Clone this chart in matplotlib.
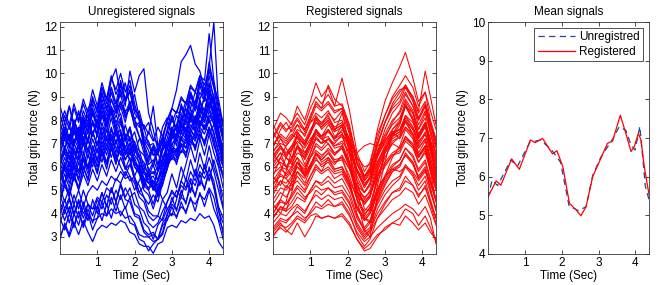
import numpy as np
import matplotlib
matplotlib.use("Agg")
import matplotlib.pyplot as plt

plt.rcParams['font.family'] = ['Liberation Sans', 'DejaVu Sans']
plt.rcParams['font.size'] = 8.5

# sample times of the registered (smooth) curves
t_reg = [0, 0.2, 0.35, 0.5, 0.65, 0.85, 1.0, 1.15, 1.3, 1.48, 1.65, 1.85, 2.05,
         2.25, 2.45, 2.6, 2.8, 3.0, 3.2, 3.4, 3.55, 3.75, 3.9, 4.08, 4.22, 4.37]

registered = [
    [6.8, 7.6, 7.9, 7.5, 7.8, 7.6, 8.0, 8.6, 8.4, 8.7, 8.3, 8.5, 7.6, 6.4, 5.6, 6.0, 7.6, 8.8, 9.6, 10.3, 10.9, 9.8, 8.8, 9.2, 8.0, 7.2],
    [7.2, 7.8, 7.5, 7.9, 8.3, 7.8, 8.5, 9.0, 8.7, 9.1, 8.6, 9.8, 8.4, 6.6, 5.8, 6.2, 7.4, 8.2, 9.0, 9.5, 9.9, 9.4, 8.6, 9.2, 8.4, 7.6],
    [7.6, 8.3, 8.1, 7.8, 8.6, 8.0, 8.8, 9.6, 9.0, 9.4, 8.6, 8.7, 7.8, 6.2, 5.4, 5.8, 7.0, 7.9, 8.7, 9.2, 9.5, 9.0, 8.4, 10.1, 9.0, 7.8],
    [6.9, 7.4, 7.2, 7.6, 8.0, 7.5, 8.1, 8.8, 8.5, 9.5, 8.9, 8.6, 7.7, 6.4, 5.6, 5.9, 7.0, 7.9, 8.5, 8.8, 9.4, 8.8, 8.0, 8.6, 7.8, 7.0],
    [5.2, 5.8, 6.4, 6.2, 7.5, 7.0, 7.4, 8.2, 7.8, 8.3, 8.0, 8.4, 6.8, 5.0, 3.8, 3.6, 5.2, 6.6, 7.6, 8.0, 8.6, 8.3, 7.4, 7.9, 7.2, 5.9],
    [7.8, 7.2, 6.8, 6.4, 6.9, 6.1, 6.6, 7.2, 7.0, 7.2, 7.0, 7.4, 7.0, 6.6, 6.9, 7.0, 6.9, 7.1, 7.5, 7.6, 8.0, 7.6, 7.1, 7.4, 6.9, 6.3],
    [4.0, 4.6, 5.2, 5.0, 6.2, 5.8, 6.6, 7.3, 7.0, 7.6, 7.2, 7.8, 6.6, 4.6, 3.3, 3.0, 4.8, 6.2, 7.4, 7.9, 8.8, 8.3, 7.6, 8.1, 7.0, 5.6],
    [6.2, 6.6, 6.0, 5.6, 6.2, 5.7, 6.4, 7.0, 6.8, 7.2, 6.9, 7.1, 6.6, 5.9, 5.4, 5.7, 6.5, 7.0, 7.4, 7.6, 8.2, 7.9, 7.3, 7.8, 7.1, 6.6],
    [5.6, 5.2, 5.8, 6.7, 7.3, 6.6, 7.0, 7.6, 7.2, 7.0, 6.5, 6.8, 6.0, 5.2, 4.9, 5.3, 6.4, 7.1, 7.5, 7.2, 7.7, 7.4, 6.8, 7.2, 6.4, 5.6],
    [3.8, 4.3, 4.1, 4.9, 5.8, 5.3, 5.9, 6.6, 6.3, 6.6, 6.2, 6.4, 5.4, 4.0, 3.2, 3.4, 4.6, 5.6, 6.4, 6.9, 7.6, 7.2, 6.4, 6.9, 5.8, 4.5],
    [6.6, 6.1, 5.6, 5.9, 6.4, 5.6, 6.0, 6.6, 6.2, 6.4, 5.9, 6.0, 5.4, 4.7, 4.5, 4.8, 5.6, 6.1, 6.5, 6.6, 7.1, 6.8, 6.2, 6.6, 5.8, 5.0],
    [4.8, 5.4, 5.1, 5.5, 6.0, 5.6, 6.1, 6.6, 6.4, 6.8, 6.5, 6.9, 6.1, 5.0, 4.4, 4.7, 5.8, 6.7, 7.3, 7.8, 8.6, 8.0, 7.2, 7.8, 6.8, 5.8],
    [5.6, 6.4, 6.0, 6.0, 6.9, 6.6, 7.0, 7.4, 7.2, 7.6, 7.2, 7.4, 6.8, 5.8, 5.3, 5.5, 6.2, 6.8, 7.3, 7.5, 8.2, 7.7, 7.2, 7.7, 6.9, 6.1],
    [4.2, 4.6, 4.4, 4.8, 5.2, 4.9, 5.4, 5.9, 5.7, 5.9, 5.5, 5.7, 5.1, 4.2, 3.7, 4.0, 4.9, 5.5, 6.0, 6.3, 6.8, 6.4, 5.8, 6.2, 5.4, 4.6],
    [3.8, 4.3, 4.2, 4.5, 4.9, 4.6, 5.0, 5.4, 5.2, 5.4, 5.1, 5.2, 4.7, 3.8, 3.3, 3.6, 4.4, 5.0, 5.4, 5.6, 6.1, 5.7, 5.2, 5.6, 4.9, 4.2],
    [3.4, 3.8, 3.7, 3.9, 4.1, 3.8, 4.0, 4.3, 4.2, 4.4, 4.3, 4.4, 3.9, 3.2, 2.8, 3.0, 3.4, 3.7, 4.0, 4.2, 4.4, 4.2, 3.9, 4.3, 3.8, 2.7],
    [3.2, 3.6, 3.3, 3.1, 3.6, 3.0, 3.4, 3.9, 3.8, 3.9, 3.8, 3.9, 3.5, 2.9, 2.5, 2.7, 3.1, 3.3, 3.6, 3.8, 4.2, 4.0, 3.5, 3.9, 3.4, 2.8],
    [4.0, 4.5, 4.4, 4.7, 5.1, 4.7, 4.9, 5.2, 5.0, 5.1, 4.8, 4.9, 4.4, 3.6, 3.1, 3.3, 4.0, 4.5, 4.9, 5.0, 5.4, 5.2, 4.8, 5.1, 4.5, 3.8],
    [3.6, 4.0, 3.9, 4.2, 4.4, 4.1, 4.5, 4.8, 4.6, 4.8, 4.6, 4.7, 4.2, 3.4, 2.9, 3.2, 3.8, 4.2, 4.6, 4.8, 5.1, 4.9, 4.4, 4.8, 4.2, 3.5],
    [6.6, 7.2, 7.0, 7.3, 7.8, 7.3, 7.9, 8.3, 8.1, 8.4, 7.9, 8.0, 7.1, 5.9, 5.2, 5.6, 6.9, 7.9, 8.6, 9.0, 9.5, 8.9, 8.1, 8.7, 7.8, 6.9],
    [7.0, 7.3, 7.1, 7.4, 7.2, 7.0, 7.5, 7.9, 7.7, 8.0, 7.6, 7.8, 7.0, 5.8, 5.2, 5.5, 6.6, 7.3, 7.8, 8.1, 8.7, 8.1, 7.4, 7.9, 7.1, 6.4],
    [5.9, 6.2, 6.0, 6.4, 6.9, 6.5, 7.1, 7.6, 7.3, 7.6, 7.1, 7.3, 6.5, 5.4, 4.9, 5.2, 6.2, 6.9, 7.4, 7.6, 8.1, 7.7, 7.0, 7.5, 6.7, 5.8],
    [6.3, 6.8, 6.5, 6.7, 7.1, 6.8, 7.2, 7.5, 7.2, 7.3, 6.9, 7.0, 6.2, 5.0, 4.5, 4.8, 6.0, 6.8, 7.3, 7.5, 8.0, 7.6, 6.9, 7.4, 6.6, 5.7],
    [5.0, 5.4, 5.3, 5.6, 6.0, 5.7, 6.1, 6.5, 6.3, 6.6, 6.2, 6.3, 5.6, 4.6, 4.1, 4.4, 5.4, 6.0, 6.5, 6.7, 7.3, 6.9, 6.2, 6.7, 5.9, 5.0],
    [5.4, 5.9, 5.7, 6.0, 6.4, 6.0, 6.4, 6.7, 6.5, 6.7, 6.3, 6.4, 5.9, 5.1, 4.7, 4.9, 5.7, 6.2, 6.6, 6.8, 7.2, 6.9, 6.4, 6.8, 6.1, 5.3],
    [6.1, 6.6, 6.4, 6.8, 7.3, 6.9, 7.4, 7.9, 7.7, 8.0, 7.5, 7.7, 7.0, 5.8, 5.1, 5.5, 6.7, 7.4, 8.0, 8.3, 8.9, 8.4, 7.6, 8.3, 7.4, 6.5],
    [3.9, 4.2, 4.1, 4.3, 4.7, 4.5, 5.0, 5.4, 5.3, 5.6, 5.3, 5.5, 4.9, 3.9, 3.4, 3.7, 4.6, 5.3, 5.8, 6.1, 6.5, 6.1, 5.5, 5.9, 5.0, 4.1],
    [4.6, 5.1, 5.0, 5.3, 5.8, 5.5, 5.9, 6.3, 6.1, 6.3, 5.9, 6.0, 5.3, 4.3, 3.8, 4.1, 5.0, 5.6, 6.1, 6.3, 6.8, 6.5, 5.9, 6.3, 5.5, 4.6],
    [7.3, 7.9, 7.6, 7.7, 8.1, 7.6, 8.2, 8.7, 8.5, 8.8, 8.4, 8.5, 7.5, 6.1, 5.5, 5.9, 7.2, 8.2, 8.9, 9.3, 9.4, 9.0, 8.3, 8.8, 7.9, 7.1],
    [3.0, 3.5, 3.4, 3.6, 3.9, 3.7, 4.1, 4.5, 4.3, 4.6, 4.3, 4.5, 4.0, 3.1, 2.6, 2.9, 3.8, 4.4, 4.9, 5.1, 5.6, 5.2, 4.7, 5.2, 4.4, 3.6],
    [5.7, 6.0, 5.9, 6.3, 6.8, 6.4, 6.9, 7.2, 7.0, 7.2, 6.8, 6.9, 6.2, 5.2, 4.6, 5.0, 6.1, 6.7, 7.2, 7.4, 7.9, 7.4, 6.8, 7.2, 6.4, 5.5],
    [6.7, 7.0, 6.9, 7.2, 7.5, 7.1, 7.6, 8.0, 7.8, 8.1, 7.7, 7.9, 7.2, 6.2, 5.6, 5.8, 6.5, 7.1, 7.6, 7.9, 8.6, 8.0, 7.3, 7.8, 7.0, 6.2],
    [4.4, 4.9, 4.7, 5.1, 5.6, 5.2, 5.6, 6.0, 5.8, 6.0, 5.7, 5.8, 5.2, 4.2, 3.7, 4.0, 4.8, 5.4, 5.9, 6.1, 6.5, 6.2, 5.6, 6.0, 5.3, 4.5],
    [5.3, 5.6, 5.5, 5.8, 6.2, 5.9, 6.4, 6.9, 6.7, 7.0, 6.6, 6.8, 6.0, 4.9, 4.4, 4.7, 5.9, 6.6, 7.1, 7.3, 8.0, 7.4, 6.6, 7.1, 6.2, 5.2],
    [3.3, 3.7, 3.6, 3.9, 4.3, 4.0, 4.5, 5.0, 4.8, 5.1, 4.9, 5.0, 4.5, 3.5, 3.0, 3.3, 4.2, 4.8, 5.2, 5.5, 6.0, 5.6, 5.0, 5.4, 4.6, 3.8],
    [6.4, 6.9, 6.6, 6.9, 7.4, 6.9, 7.5, 8.1, 7.9, 8.2, 7.6, 7.8, 6.8, 5.6, 4.9, 5.3, 6.6, 7.6, 8.3, 8.7, 9.2, 8.6, 7.8, 8.4, 7.5, 6.6],
    [7.5, 6.9, 6.5, 6.9, 7.0, 6.3, 6.8, 7.5, 7.3, 7.8, 7.5, 8.3, 7.4, 5.4, 4.2, 4.1, 5.5, 6.6, 7.0, 6.8, 7.3, 7.0, 6.4, 6.9, 6.2, 5.4],
    [5.0, 5.7, 5.5, 5.2, 5.4, 5.0, 5.6, 6.1, 5.8, 6.4, 6.1, 6.5, 5.9, 4.8, 4.0, 4.2, 5.1, 5.6, 5.9, 5.8, 6.0, 5.8, 5.4, 5.8, 5.3, 4.6],
    [6.0, 6.4, 6.9, 7.2, 7.6, 7.4, 7.9, 8.1, 7.6, 7.9, 7.3, 7.5, 6.2, 4.6, 3.9, 4.3, 5.6, 6.4, 7.0, 7.3, 7.7, 7.3, 6.5, 6.9, 6.0, 5.1],
    [4.4, 4.0, 4.5, 5.4, 6.2, 5.6, 6.0, 6.4, 6.0, 6.2, 5.8, 5.9, 5.2, 4.3, 3.8, 3.7, 4.5, 5.2, 5.8, 6.0, 6.6, 6.2, 5.5, 5.9, 5.1, 4.2],
    [6.5, 6.9, 6.4, 6.1, 6.6, 6.4, 7.0, 7.6, 7.3, 7.5, 7.2, 7.6, 7.2, 6.4, 6.0, 6.1, 6.6, 7.2, 7.9, 8.4, 9.1, 8.6, 8.0, 8.6, 7.6, 6.8],
    [3.1, 3.4, 3.2, 3.5, 3.8, 3.6, 3.9, 4.0, 3.8, 3.9, 3.8, 4.0, 3.6, 2.9, 2.4, 2.5, 3.0, 3.4, 3.6, 3.5, 3.9, 3.6, 3.3, 3.6, 3.2, 2.9],
]

# sample times of the unregistered (jagged) curves
t_unreg = [0, 0.125, 0.25, 0.375, 0.5, 0.625, 0.75, 0.875, 1.0, 1.125, 1.25, 1.375,
           1.5, 1.625, 1.75, 1.875, 2.0, 2.125, 2.25, 2.375, 2.5, 2.625, 2.75, 2.875,
           3.0, 3.125, 3.25, 3.375, 3.5, 3.625, 3.75, 3.875, 4.0, 4.125, 4.25, 4.375]

unregistered = [
    [6.5, 7.3, 6.9, 7.6, 7.0, 7.9, 7.5, 8.3, 7.8, 8.7, 8.0, 8.9, 8.4, 8.8, 8.1, 8.6, 7.7, 7.9, 7.0, 6.4, 6.9, 6.1, 6.9, 7.5, 8.2, 7.6, 8.7, 8.1, 9.2, 8.6, 9.7, 9.0, 10.3, 12.2, 8.6, 7.7],
    [6.0, 6.7, 6.1, 7.0, 6.6, 7.5, 7.0, 7.9, 7.4, 8.4, 7.7, 8.5, 7.9, 8.3, 7.3, 7.1, 6.2, 5.8, 5.1, 5.7, 5.0, 5.9, 6.7, 7.6, 8.5, 9.3, 10.5, 10.8, 11.2, 10.4, 10.1, 9.3, 9.0, 8.1, 7.2, 6.3],
    [7.0, 7.7, 7.1, 8.0, 7.3, 8.2, 7.7, 8.7, 8.1, 9.1, 8.4, 9.4, 8.7, 9.7, 8.9, 9.5, 8.5, 8.1, 7.1, 6.7, 6.0, 6.8, 7.3, 8.0, 8.5, 8.3, 8.9, 8.7, 9.4, 9.2, 9.9, 9.7, 11.7, 9.7, 8.5, 7.3],
    [8.3, 7.5, 8.6, 7.8, 8.3, 7.5, 8.5, 8.8, 8.5, 9.4, 8.7, 9.7, 10.2, 9.0, 9.6, 8.6, 9.1, 8.1, 7.7, 6.9, 6.5, 6.8, 7.7, 8.1, 7.9, 8.4, 8.2, 8.8, 8.5, 9.2, 8.9, 9.4, 9.1, 8.2, 7.7, 7.8],
    [5.5, 6.1, 5.6, 6.5, 6.8, 6.6, 7.2, 7.9, 7.3, 8.4, 7.8, 8.9, 8.3, 9.3, 8.6, 10.1, 9.2, 9.9, 10.2, 8.3, 7.6, 6.7, 7.3, 6.4, 7.4, 7.8, 7.5, 8.2, 7.9, 8.6, 8.3, 9.0, 8.6, 9.1, 7.1, 6.1],
    [6.8, 7.4, 6.8, 7.7, 7.1, 8.0, 7.4, 8.3, 7.6, 8.7, 7.9, 8.5, 7.7, 8.6, 7.9, 8.8, 8.0, 7.7, 7.8, 7.4, 8.6, 6.9, 6.7, 7.0, 7.7, 7.1, 8.1, 7.5, 8.5, 7.9, 8.9, 8.1, 9.5, 8.5, 7.9, 7.1],
    [5.0, 5.7, 5.1, 6.0, 5.4, 6.4, 5.9, 6.9, 6.3, 7.3, 6.7, 7.6, 7.0, 7.9, 7.2, 7.7, 6.9, 6.7, 6.0, 5.7, 5.1, 5.8, 6.2, 7.0, 7.4, 7.2, 7.8, 7.5, 8.1, 7.8, 8.4, 8.1, 8.5, 8.0, 7.1, 6.7],
    [6.2, 6.8, 6.3, 7.0, 6.5, 7.3, 6.7, 7.5, 6.9, 7.7, 7.1, 7.4, 6.8, 6.9, 6.0, 5.6, 5.0, 5.4, 5.9, 6.4, 6.9, 6.5, 7.2, 6.8, 7.6, 7.1, 7.9, 7.3, 8.1, 7.5, 8.3, 7.6, 8.0, 7.4, 6.7, 6.1],
    [7.5, 8.2, 7.6, 8.5, 7.9, 8.7, 8.1, 9.0, 8.3, 9.2, 8.5, 9.4, 8.7, 9.1, 8.3, 8.8, 8.0, 8.4, 7.6, 7.9, 7.2, 7.0, 6.4, 6.0, 6.5, 7.4, 8.0, 8.6, 9.2, 8.7, 9.8, 9.1, 10.5, 9.4, 8.9, 7.8],
    [4.5, 5.2, 4.7, 5.6, 5.1, 6.0, 5.5, 6.4, 5.8, 6.7, 6.1, 7.0, 6.4, 7.2, 6.5, 7.0, 6.2, 6.0, 5.3, 5.1, 5.4, 4.7, 5.5, 5.9, 6.7, 6.1, 7.0, 6.4, 7.4, 6.7, 7.6, 6.9, 7.7, 6.9, 6.4, 5.5],
    [5.8, 6.4, 5.8, 6.7, 6.1, 7.0, 6.4, 7.2, 6.6, 7.5, 6.9, 7.7, 7.0, 7.4, 6.6, 7.0, 6.1, 5.9, 5.2, 5.0, 4.4, 5.1, 5.5, 6.3, 6.8, 6.6, 7.2, 7.0, 7.6, 7.3, 7.9, 7.6, 8.2, 7.9, 6.9, 6.4],
    [4.3, 3.7, 4.3, 3.5, 4.1, 3.4, 4.0, 3.3, 3.8, 4.0, 3.9, 4.2, 4.0, 4.1, 3.8, 3.9, 3.6, 3.1, 3.0, 3.0, 2.8, 2.9, 3.5, 3.7, 4.3, 3.8, 4.5, 4.0, 4.7, 4.1, 4.9, 4.3, 5.0, 4.2, 3.7, 2.9],
    [3.0, 3.5, 3.0, 3.6, 3.1, 3.7, 3.2, 2.8, 3.3, 3.5, 3.4, 3.6, 3.5, 3.7, 3.6, 3.2, 3.1, 2.7, 2.6, 2.6, 2.3, 2.7, 2.8, 3.4, 3.5, 3.4, 3.7, 3.6, 3.8, 3.7, 4.0, 3.8, 3.9, 3.5, 2.8, 2.5],
    [3.6, 4.2, 3.6, 4.4, 3.8, 4.5, 3.9, 3.7, 3.8, 4.5, 3.9, 4.7, 4.1, 4.8, 4.2, 4.7, 4.0, 3.9, 3.3, 3.1, 3.2, 2.9, 3.1, 3.8, 4.0, 3.9, 4.3, 4.1, 4.6, 4.4, 4.8, 4.6, 5.1, 4.7, 3.8, 3.3],
    [4.8, 4.2, 4.7, 4.0, 4.6, 4.0, 4.4, 4.2, 4.7, 4.5, 5.1, 4.9, 5.5, 5.3, 5.8, 5.4, 5.6, 4.9, 4.7, 4.1, 3.9, 3.9, 3.7, 4.2, 4.5, 5.0, 4.7, 5.5, 4.9, 5.9, 5.2, 6.1, 5.4, 6.3, 5.5, 4.7],
    [5.3, 5.9, 5.3, 6.1, 5.5, 6.3, 5.7, 6.6, 6.0, 6.8, 6.2, 7.0, 6.3, 6.7, 5.9, 6.4, 5.6, 6.1, 5.4, 5.9, 5.3, 5.1, 4.6, 4.2, 3.9, 4.6, 5.4, 6.1, 6.9, 6.2, 7.2, 6.5, 7.4, 6.6, 6.0, 5.1],
    [7.2, 7.9, 7.2, 8.0, 7.4, 8.1, 7.5, 8.4, 7.8, 8.6, 7.9, 8.3, 7.5, 8.0, 7.1, 7.6, 6.7, 6.4, 5.7, 5.5, 5.6, 5.2, 5.7, 6.5, 6.9, 6.7, 7.3, 7.1, 7.8, 7.5, 8.2, 7.9, 8.7, 8.2, 7.2, 6.6],
    [6.4, 5.9, 6.7, 6.1, 7.0, 6.3, 7.2, 6.6, 7.4, 6.8, 7.6, 6.9, 7.7, 7.0, 7.8, 7.1, 7.5, 6.7, 6.5, 5.9, 5.7, 6.0, 6.7, 7.1, 6.9, 7.4, 7.2, 7.7, 7.4, 8.0, 7.7, 8.3, 8.0, 8.5, 7.9, 7.9],
    [8.6, 7.9, 8.6, 7.7, 8.4, 7.6, 8.2, 7.4, 8.0, 7.3, 7.9, 7.1, 7.7, 6.9, 7.4, 6.7, 7.1, 6.4, 6.2, 5.6, 6.1, 5.4, 6.3, 6.7, 7.5, 6.9, 7.9, 7.3, 8.3, 7.6, 8.6, 7.9, 9.1, 8.2, 7.6, 6.7],
    [5.1, 4.5, 5.1, 4.4, 5.0, 4.3, 4.9, 5.2, 5.0, 5.4, 5.2, 5.6, 5.4, 5.8, 5.5, 5.6, 5.3, 4.7, 4.5, 3.9, 3.7, 3.9, 4.6, 4.9, 5.7, 5.1, 6.0, 5.4, 6.3, 5.6, 6.6, 5.9, 6.9, 6.0, 5.4, 4.3],
    [6.9, 7.5, 6.9, 7.8, 7.2, 8.1, 7.5, 8.5, 7.9, 8.9, 8.2, 9.2, 8.5, 9.5, 8.8, 9.3, 8.4, 8.2, 7.3, 7.1, 6.5, 6.6, 6.0, 6.4, 7.0, 7.2, 7.7, 7.5, 8.1, 7.9, 8.5, 8.2, 8.8, 8.4, 7.4, 6.9],
    [4.0, 4.6, 4.0, 4.8, 4.2, 5.0, 4.4, 4.2, 4.3, 4.9, 4.3, 5.1, 4.5, 5.2, 4.6, 4.5, 3.9, 3.8, 3.2, 3.0, 3.1, 2.9, 3.2, 4.0, 4.4, 4.2, 4.7, 4.5, 5.1, 4.8, 5.4, 5.1, 5.7, 5.2, 4.1, 3.6],
    [5.6, 6.2, 5.6, 6.4, 5.8, 6.6, 6.0, 6.9, 6.2, 7.1, 6.5, 7.3, 6.6, 7.5, 6.8, 7.3, 6.5, 6.2, 5.5, 5.3, 5.4, 5.1, 5.5, 6.3, 6.7, 6.5, 7.0, 6.8, 7.4, 7.1, 7.7, 7.4, 8.0, 7.5, 6.5, 6.0],
    [6.6, 7.2, 6.6, 7.5, 6.9, 7.8, 7.1, 8.0, 7.3, 8.2, 7.5, 8.4, 7.7, 8.1, 7.2, 7.7, 6.8, 6.5, 5.8, 5.6, 5.8, 5.4, 5.9, 6.8, 7.3, 7.1, 7.8, 7.5, 8.3, 8.0, 8.8, 8.4, 9.2, 8.7, 7.3, 6.8],
    [7.8, 8.4, 7.8, 8.7, 8.0, 8.9, 8.3, 9.3, 8.6, 9.6, 8.9, 9.9, 9.1, 9.6, 8.8, 9.2, 8.3, 8.0, 7.2, 6.9, 7.0, 6.6, 7.1, 8.0, 8.5, 8.3, 9.0, 8.7, 9.5, 9.2, 9.9, 9.5, 10.2, 9.6, 8.5, 7.9],
    [2.9, 3.6, 3.1, 4.0, 3.5, 4.3, 3.7, 4.6, 4.0, 4.9, 4.3, 5.1, 4.5, 5.3, 4.7, 5.1, 4.4, 4.2, 3.6, 3.4, 2.9, 3.5, 3.8, 4.5, 4.9, 4.7, 5.2, 5.0, 5.5, 5.2, 5.8, 5.5, 5.9, 5.4, 4.3, 3.8],
    [5.9, 5.3, 6.2, 5.6, 6.5, 5.9, 6.8, 6.2, 7.1, 6.5, 7.3, 6.7, 7.5, 6.8, 7.2, 6.5, 6.9, 6.1, 5.9, 5.3, 5.1, 5.4, 6.1, 6.5, 6.3, 6.8, 6.6, 7.2, 6.9, 7.5, 7.2, 7.8, 7.4, 7.8, 7.2, 6.2],
    [4.6, 5.3, 4.8, 5.7, 5.1, 6.0, 5.4, 6.3, 5.7, 6.6, 5.9, 6.8, 6.1, 7.0, 6.3, 6.7, 6.0, 5.7, 5.0, 4.8, 4.2, 4.9, 5.2, 6.0, 6.4, 6.2, 6.7, 6.5, 7.1, 6.8, 7.4, 7.1, 7.7, 7.2, 6.1, 5.6],
    [3.8, 3.3, 4.0, 3.4, 4.1, 3.5, 4.2, 3.6, 4.3, 3.7, 4.4, 3.8, 4.5, 3.9, 4.3, 3.6, 3.5, 2.9, 2.8, 2.4, 2.7, 2.9, 3.6, 3.9, 4.7, 4.1, 5.0, 4.4, 5.4, 4.7, 5.7, 5.0, 6.0, 5.1, 4.2, 3.1],
    [7.9, 7.2, 7.8, 7.0, 7.7, 6.9, 7.6, 7.9, 7.7, 8.2, 8.0, 8.5, 8.3, 8.7, 8.4, 8.5, 8.0, 7.3, 6.9, 6.2, 6.8, 5.9, 6.8, 7.2, 8.1, 7.5, 8.6, 8.0, 9.1, 8.4, 9.5, 8.8, 9.9, 8.9, 8.1, 7.2],
    [7.3, 6.8, 7.4, 6.9, 7.6, 7.1, 7.9, 7.3, 8.0, 7.4, 7.6, 6.9, 6.5, 6.0, 5.6, 6.1, 6.6, 7.2, 6.9, 7.5, 7.1, 7.7, 7.3, 7.9, 7.5, 8.2, 7.8, 8.5, 8.1, 8.8, 8.3, 9.0, 8.5, 8.9, 8.0, 7.5],
    [4.9, 5.4, 4.8, 5.6, 5.0, 5.7, 5.2, 5.9, 5.4, 6.1, 5.6, 6.3, 5.8, 6.4, 5.9, 6.1, 5.5, 5.2, 4.7, 4.4, 4.8, 4.5, 5.3, 5.9, 6.8, 6.6, 7.5, 7.2, 8.1, 7.8, 8.7, 8.4, 9.3, 8.8, 7.6, 6.4],
    [6.1, 6.6, 6.0, 6.8, 6.3, 7.1, 6.6, 7.5, 6.9, 7.9, 7.2, 8.1, 7.3, 7.6, 6.7, 6.3, 5.4, 4.9, 5.2, 5.8, 6.2, 6.7, 7.0, 7.5, 7.2, 7.8, 7.4, 8.0, 7.6, 8.2, 7.8, 8.4, 7.9, 8.1, 7.3, 6.6],
    [5.4, 6.0, 5.5, 6.2, 5.7, 6.4, 5.9, 6.6, 6.0, 6.7, 6.1, 6.8, 6.2, 6.9, 6.3, 6.7, 6.0, 5.8, 5.3, 5.5, 5.0, 5.4, 5.8, 6.2, 6.5, 6.3, 6.9, 6.6, 7.2, 6.9, 7.4, 7.0, 7.6, 7.1, 6.3, 5.7],
    [7.0, 7.6, 7.1, 8.0, 7.5, 8.4, 7.9, 8.9, 8.4, 9.4, 8.9, 9.8, 9.3, 10.0, 9.2, 9.7, 8.7, 8.0, 6.8, 5.8, 5.1, 4.8, 5.5, 6.4, 7.2, 7.8, 8.5, 8.2, 9.0, 8.7, 9.6, 9.2, 10.1, 9.4, 8.2, 7.4],
    [4.5, 4.0, 4.6, 3.9, 4.5, 3.8, 4.4, 3.9, 4.6, 4.2, 4.8, 4.4, 5.0, 4.6, 5.1, 4.7, 4.9, 4.3, 4.1, 3.6, 3.4, 3.6, 4.1, 4.5, 5.0, 4.7, 5.4, 5.1, 5.8, 5.4, 6.1, 5.7, 6.4, 5.8, 5.0, 4.2],
    [6.3, 6.9, 6.4, 7.2, 6.8, 7.6, 7.1, 7.9, 7.4, 8.2, 7.8, 8.6, 8.1, 8.8, 8.2, 8.5, 7.8, 7.3, 6.6, 6.1, 6.3, 5.8, 6.4, 6.9, 7.7, 7.3, 8.2, 7.8, 8.8, 8.4, 9.2, 8.8, 9.6, 9.0, 8.0, 7.5],
    [5.7, 5.2, 5.9, 5.4, 6.2, 5.7, 6.5, 6.0, 6.8, 6.2, 7.0, 6.4, 7.1, 6.5, 6.9, 6.3, 6.4, 5.8, 5.5, 5.0, 5.4, 4.9, 5.6, 6.1, 6.8, 6.4, 7.2, 6.8, 7.6, 7.2, 8.0, 7.6, 8.4, 7.8, 7.0, 6.2],
]

# mean curves (right panel)
t_mean_reg = [0, 0.22, 0.35, 0.64, 0.85, 1.15, 1.28, 1.48, 1.75, 1.87, 2.03, 2.21, 2.39,
              2.52, 2.66, 2.84, 3.06, 3.24, 3.38, 3.59, 3.74, 3.88, 3.97, 4.08, 4.15, 4.24, 4.37]
mean_reg = [5.48, 5.89, 5.78, 6.46, 6.19, 6.95, 6.88, 6.99, 6.59, 6.67, 6.26, 5.31, 5.14,
            4.99, 5.22, 6.0, 6.47, 6.86, 6.92, 7.59, 7.12, 6.65, 6.78, 7.12, 6.95, 6.26, 5.53]
t_mean_unreg = [0, 0.11, 0.26, 0.62, 0.8, 1.13, 1.28, 1.43, 1.75, 1.97, 2.2, 2.45, 2.66,
                2.84, 3.06, 3.38, 3.56, 3.74, 3.88, 3.99, 4.12, 4.27, 4.37]
mean_unreg = [5.45, 5.91, 5.77, 6.43, 6.27, 6.88, 6.92, 6.95, 6.66, 6.37, 5.24, 5.12, 5.22,
              6.03, 6.5, 6.97, 7.29, 7.2, 6.82, 6.69, 7.3, 5.75, 5.4]

fig = plt.figure(figsize=(6.71, 2.85), dpi=100)
ax1 = fig.add_axes([0.0894, 0.1088, 0.2429, 0.814])
ax2 = fig.add_axes([0.4069, 0.1088, 0.2429, 0.814])
ax3 = fig.add_axes([0.7273, 0.1088, 0.2400, 0.814])

for row in unregistered:
    ax1.plot(t_unreg, row, color='#0000ff', lw=0.9)
for row in registered:
    ax2.plot(t_reg, row, color='#ff0000', lw=0.75)

ax3.plot(t_mean_unreg, mean_unreg, color='#23439c', lw=0.9, ls=(0, (5, 3.5)), label='Unregistred')
ax3.plot(t_mean_reg, mean_reg, color='#ff0000', lw=0.9, label='Registered')

titles = ['Unregistered signals', 'Registered signals', 'Mean signals']
for ax, title in zip([ax1, ax2, ax3], titles):
    ax.set_title(title, fontsize=8.5, pad=5)
    ax.set_xlabel('Time (Sec)', labelpad=1)
    ax.set_ylabel('Total grip force (N)', labelpad=2)
    ax.set_xlim(0, 4.37)
    ax.set_xticks([1, 2, 3, 4])
    ax.tick_params(direction='in', top=True, right=True, length=3, width=0.5,
                   labelsize=8.5, pad=2)
    for s in ax.spines.values():
        s.set_linewidth(0.6)
        s.set_color('#333333')

for ax in [ax1, ax2]:
    ax.set_ylim(2.27, 12.2)
    ax.set_yticks(range(3, 13))
ax3.set_ylim(4, 10)
ax3.set_yticks(range(4, 11))

leg = ax3.legend(loc='upper right', fontsize=8.5, fancybox=False, framealpha=1,
                 handlelength=3.2, borderpad=0.3, labelspacing=0.2, handletextpad=0.3,
                 borderaxespad=0.5)
leg.get_frame().set_edgecolor('#333333')
leg.get_frame().set_linewidth(0.6)

fig.savefig('out.png', dpi=100)
